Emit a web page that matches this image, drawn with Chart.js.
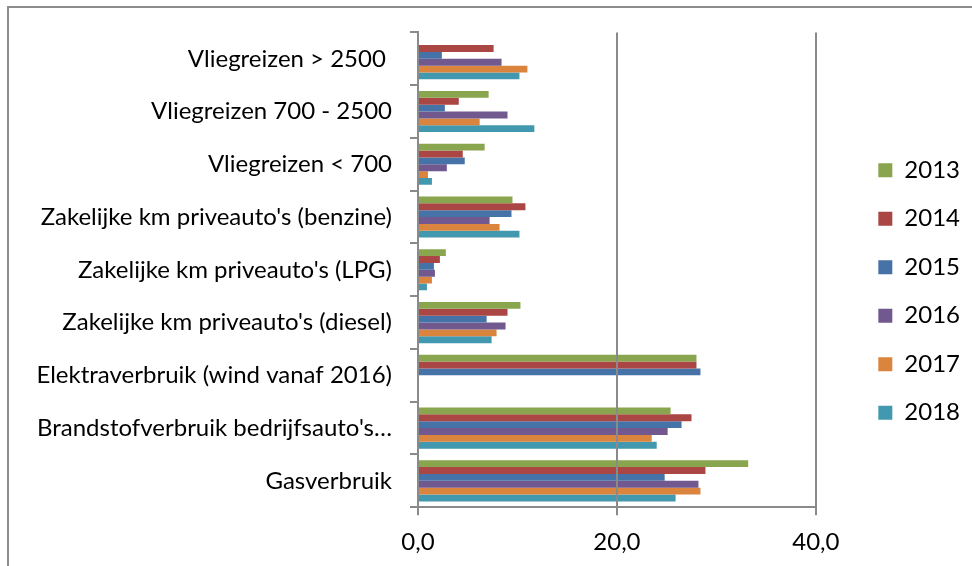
<!DOCTYPE html>
<html>
<head>
<meta charset="utf-8">
<script src="https://cdn.jsdelivr.net/npm/chart.js@4"></script>
<style>
  html, body { margin: 0; padding: 0; background: #fff; overflow: hidden; }
  .frame { position: absolute; left: 7px; top: 6px; width: 1000px; height: 600px; border: 2px solid #8c8c8c; }
  .wrap { position: absolute; left: 0; top: 0; width: 972px; height: 570px; }
</style>
</head>
<body>
<div class="frame"></div>
<div class="wrap"><canvas id="barChart" width="972" height="570"></canvas></div>
<script>
"use strict";

// categories, top to bottom
var categories = [
  "Vliegreizen > 2500 ",
  "Vliegreizen 700 - 2500",
  "Vliegreizen < 700",
  "Zakelijke km priveauto's (benzine)",
  "Zakelijke km priveauto's (LPG)",
  "Zakelijke km priveauto's (diesel)",
  "Elektraverbruik (wind vanaf 2016)",
  "Brandstofverbruik bedrijfsauto's…",
  "Gasverbruik"
];

var years = ["2013", "2014", "2015", "2016", "2017", "2018"];

var y2013 = [0, 7.1, 6.7, 9.5, 2.8, 10.3, 28.0, 25.4, 33.2];
var y2014 = [7.6, 4.1, 4.5, 10.8, 2.2, 9.0, 28.0, 27.5, 28.9];
var y2015 = [2.4, 2.7, 4.7, 9.4, 1.6, 6.9, 28.4, 26.5, 24.8];
var y2016 = [8.4, 9.0, 2.9, 7.2, 1.7, 8.8, 0, 25.1, 28.2];
var y2017 = [11.0, 6.2, 1.0, 8.2, 1.4, 7.9, 0, 23.5, 28.4];
var y2018 = [10.2, 11.7, 1.4, 10.2, 0.9, 7.4, 0, 24.0, 25.9];

var xTicks = [0, 20, 40];

var colors = ["#89a54e", "#aa4643", "#4572a7", "#71588f", "#db843d", "#4198af"];
var series = [y2013, y2014, y2015, y2016, y2017, y2018];

var axisGrey = "#8a8a8a";
var font = { family: "Lato", size: 24 };

// push the legend out to the right like in the excel sheet
var legendOffset = {
  id: "legendOffset",
  afterLayout: function (chart) {
    var lg = chart.legend;
    lg.left += 38;
    lg.right += 38;
    lg.top -= 8;
    lg.bottom -= 8;
  }
};

const bar = document.getElementById("barChart");

new Chart(bar, {
  type: "bar",
  data: {
    labels: categories,
    datasets: series.map(function (vals, i) {
      return {
        label: years[i],
        data: vals,
        backgroundColor: colors[i],
        borderWidth: 0,
        categoryPercentage: 0.78,
        barPercentage: 1.0
      };
    })
  },
  options: {
    indexAxis: "y",
    responsive: false,
    animation: false,
    layout: {
      padding: { top: 29, left: 8, right: 40, bottom: 0 }
    },
    scales: {
      x: {
        min: 0,
        max: 40,
        afterBuildTicks: function (s) {
          s.ticks = xTicks.map(function (v) { return { value: v }; });
        },
        // grid over the bars, border after grid
        grid: { color: axisGrey, lineWidth: 2, tickLength: 8, z: 1 },
        border: { display: true, color: axisGrey, width: 2, z: 2 },
        ticks: {
          color: "#000",
          font: font,
          padding: 13,
          maxRotation: 0,
          callback: function (v) { return v.toFixed(1).replace(".", ","); }
        }
      },
      y: {
        afterFit: function (s) { s.width = 410; },
        grid: { drawOnChartArea: false, color: axisGrey, lineWidth: 2, tickLength: 8, offset: true, z: 1 },
        border: { color: axisGrey, width: 2, z: 2 },
        ticks: { color: "#000", font: font, padding: 18, autoSkip: false }
      }
    },
    plugins: {
      legend: {
        position: "right",
        labels: {
          color: "#000",
          font: font,
          boxWidth: 14,
          boxHeight: 14,
          padding: 24.5
        }
      },
      tooltip: { enabled: false }
    }
  },
  plugins: [legendOffset]
});
</script>
</body>
</html>
